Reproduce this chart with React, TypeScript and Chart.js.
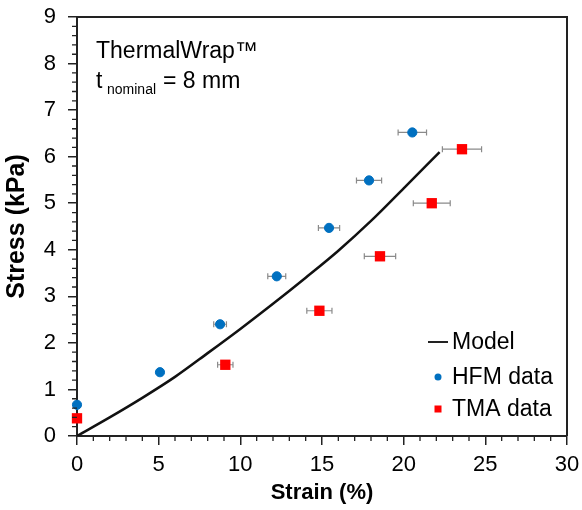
import React, { useEffect, useRef } from "react";
import { Chart, registerables } from "chart.js";

Chart.register(...registerables);

const hfmStrain = [0, 5.08, 8.76, 12.23, 15.43, 17.88, 20.53];
const hfmStress = [0.67, 1.37, 2.4, 3.43, 4.47, 5.49, 6.52];
const hfmStrainErr = [0, 0, 0.39, 0.55, 0.65, 0.77, 0.87];

const tmaStrain = [0, 9.08, 14.84, 18.55, 21.72, 23.57];
const tmaStress = [0.38, 1.53, 2.69, 3.86, 5.0, 6.16];
const tmaStrainErr = [0, 0.47, 0.77, 0.96, 1.13, 1.2];

const modelStrain = [0, 2, 4, 6, 8, 10, 12, 14, 16, 18, 20, 22.2];
const modelStress = [0, 0.4, 0.82, 1.27, 1.78, 2.3, 2.84, 3.4, 3.98, 4.62, 5.32, 6.1];

const xTicks = [0, 5, 10, 15, 20, 25, 30];
const yTicks = [0, 1, 2, 3, 4, 5, 6, 7, 8, 9];

const FONT = "'Liberation Sans', Arial, Helvetica, sans-serif";
const AXIS = "#222";
const BLUE = "#0070C0";
const RED = "#FF0000";

const extrasPlugin = {
  id: "extras",
  beforeDatasetsDraw(chart: any) {
    const ctx = chart.ctx;
    const xs = chart.scales.x;
    const ys = chart.scales.y;
    ctx.save();
    ctx.strokeStyle = "#8a8a8a";
    ctx.lineWidth = 1.2;
    const drawErr = (xv: number[], yv: number[], ev: number[]) => {
      for (let i = 0; i < xv.length; i++) {
        if (!ev[i]) continue;
        const x1 = xs.getPixelForValue(xv[i] - ev[i]);
        const x2 = xs.getPixelForValue(xv[i] + ev[i]);
        const y = ys.getPixelForValue(yv[i]);
        ctx.beginPath();
        ctx.moveTo(x1, y);
        ctx.lineTo(x2, y);
        ctx.moveTo(x1, y - 3);
        ctx.lineTo(x1, y + 3);
        ctx.moveTo(x2, y - 3);
        ctx.lineTo(x2, y + 3);
        ctx.stroke();
      }
    };
    drawErr(hfmStrain, hfmStress, hfmStrainErr);
    drawErr(tmaStrain, tmaStress, tmaStrainErr);
    ctx.restore();
  },
  afterDraw(chart: any) {
    const ctx = chart.ctx;
    const xs = chart.scales.x;
    const ys = chart.scales.y;
    const a = chart.chartArea;
    ctx.save();
    ctx.strokeStyle = AXIS;
    ctx.lineWidth = 2;
    ctx.beginPath();
    ctx.moveTo(a.left, a.top);
    ctx.lineTo(a.right, a.top);
    ctx.lineTo(a.right, a.bottom);
    ctx.stroke();
    ctx.lineWidth = 1.3;
    ctx.beginPath();
    for (let v = 1; v < 30; v++) {
      if (v % 5 === 0) continue;
      const px = xs.getPixelForValue(v);
      ctx.moveTo(px, a.bottom);
      ctx.lineTo(px, a.bottom + 5);
    }
    for (let k = 1; k < 45; k++) {
      if (k % 5 === 0) continue;
      const py = ys.getPixelForValue(k * 0.2);
      ctx.moveTo(a.left - 5, py);
      ctx.lineTo(a.left, py);
    }
    ctx.stroke();
    ctx.fillStyle = "#000";
    ctx.textBaseline = "alphabetic";
    ctx.textAlign = "left";
    ctx.font = `23px ${FONT}`;
    ctx.fillText("ThermalWrap™", 96, 58);
    ctx.fillText("t", 96, 88);
    ctx.fillText("= 8 mm", 163, 88);
    ctx.font = `14px ${FONT}`;
    ctx.fillText("nominal", 107, 94);
    ctx.font = `23px ${FONT}`;
    ctx.textBaseline = "middle";
    ctx.fillText("Model", 452, 343);
    ctx.fillText("HFM data", 452, 378);
    ctx.fillText("TMA data", 452, 410);
    ctx.strokeStyle = "#222";
    ctx.lineWidth = 2;
    ctx.beginPath();
    ctx.moveTo(428, 342);
    ctx.lineTo(448, 342);
    ctx.stroke();
    ctx.fillStyle = BLUE;
    ctx.beginPath();
    ctx.arc(438, 377, 3.5, 0, Math.PI * 2);
    ctx.fill();
    ctx.fillStyle = RED;
    ctx.fillRect(434.5, 405.5, 7, 7);
    ctx.restore();
  },
};

export default function App() {
  const ref = useRef<HTMLCanvasElement>(null);
  useEffect(() => {
    document.body.style.margin = "0";
    const toPts = (xv: number[], yv: number[]) => xv.map((x, i) => ({ x, y: yv[i] }));
    const chart = new Chart(ref.current!, {
      type: "scatter",
      data: {
        datasets: [
          {
            label: "Model",
            data: toPts(modelStrain, modelStress),
            showLine: true,
            borderColor: "#111",
            borderWidth: 2.5,
            pointRadius: 0,
            cubicInterpolationMode: "monotone",
            order: 3,
          } as any,
          {
            label: "HFM data",
            data: toPts(hfmStrain, hfmStress),
            backgroundColor: BLUE,
            borderColor: BLUE,
            pointRadius: 4.6,
            pointStyle: "circle",
            clip: false,
            order: 1,
          },
          {
            label: "TMA data",
            data: toPts(tmaStrain, tmaStress),
            backgroundColor: RED,
            borderColor: RED,
            pointRadius: 7.3,
            pointStyle: "rect",
            borderWidth: 0,
            clip: false,
            order: 1,
          },
        ],
      },
      options: {
        animation: false,
        responsive: true,
        maintainAspectRatio: false,
        layout: { padding: { top: 17, right: 15, left: 0, bottom: 0 } },
        plugins: { legend: { display: false }, tooltip: { enabled: false } },
        scales: {
          x: {
            type: "linear",
            min: 0,
            max: 30,
            afterBuildTicks: (s: any) => {
              s.ticks = xTicks.map((v) => ({ value: v }));
            },
            afterFit: (s: any) => {
              s.height = 74;
              s.paddingLeft = 0;
              s.paddingRight = 0;
            },
            ticks: {
              color: "#000",
              font: { family: FONT, size: 22 },
              padding: 7,
              maxRotation: 0,
            },
            grid: {
              drawOnChartArea: false,
              drawTicks: true,
              tickLength: 9,
              color: AXIS,
              lineWidth: 1.5,
            },
            border: { color: AXIS, width: 2 },
            title: {
              display: true,
              text: "Strain (%)",
              color: "#000",
              font: { family: FONT, size: 22, weight: "bold" },
              padding: { top: 0, bottom: 4 },
            },
          },
          y: {
            type: "linear",
            min: 0,
            max: 9,
            afterBuildTicks: (s: any) => {
              s.ticks = yTicks.map((v) => ({ value: v }));
            },
            afterFit: (s: any) => {
              s.width = 77;
              s.paddingTop = 0;
              s.paddingBottom = 0;
            },
            ticks: {
              color: "#000",
              font: { family: FONT, size: 22 },
              padding: 12,
            },
            grid: {
              drawOnChartArea: false,
              drawTicks: true,
              tickLength: 9,
              color: AXIS,
              lineWidth: 1.5,
            },
            border: { color: AXIS, width: 2 },
            title: {
              display: true,
              text: "Stress (kPa)",
              color: "#000",
              font: { family: FONT, size: 25, weight: "bold" },
              padding: { top: 2, bottom: 0 },
            },
          },
        },
      },
      plugins: [extrasPlugin],
    });
    return () => chart.destroy();
  }, []);
  return (
    <div style={{ width: 582, height: 510, position: "relative", background: "#fff" }}>
      <canvas ref={ref} />
    </div>
  );
}
